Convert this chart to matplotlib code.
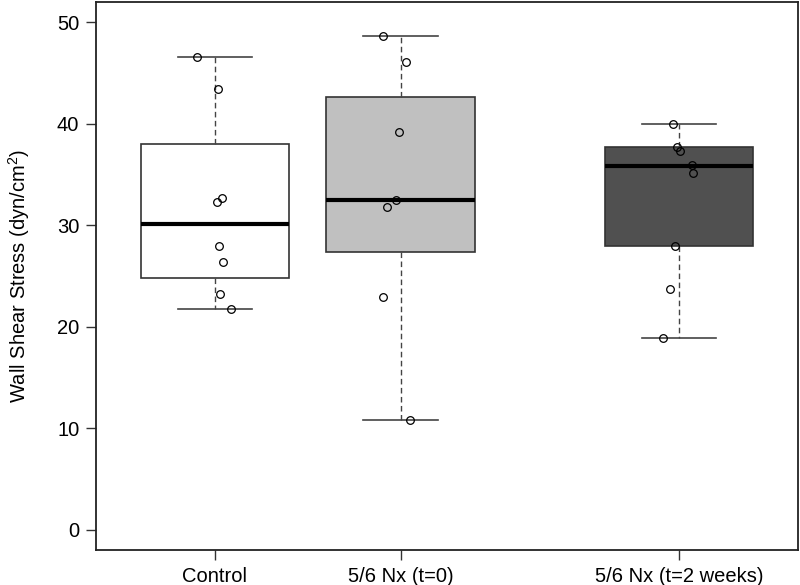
import matplotlib.pyplot as plt

plt.rcParams["font.family"] = ["Liberation Sans", "DejaVu Sans"]

# groups and where they sit on the x axis
groups = ["Control", "5/6 Nx (t=0)", "5/6 Nx (t=2 weeks)"]
positions = [1, 2, 3.5]
box_colors = ["#ffffff", "#c0c0c0", "#505050"]

# box statistics: low whisker, lower hinge, median, upper hinge, high whisker
whislo = [21.7, 10.8, 18.9]
q1 = [24.8, 27.35, 28.0]
med = [30.1, 32.5, 35.85]
q3 = [38.05, 42.65, 37.7]
whishi = [46.6, 48.6, 39.95]

# individual measurements (with the horizontal jitter used in the original)
control_vals = [46.6, 43.4, 32.7, 32.25, 27.95, 26.4, 23.2, 21.7]
control_jitter = [-0.094, 0.017, 0.039, 0.009, 0.020, 0.042, 0.027, 0.086]
nx0_vals = [48.6, 46.1, 39.2, 32.5, 31.8, 22.9, 10.8]
nx0_jitter = [-0.097, 0.029, -0.009, -0.023, -0.074, -0.096, 0.052]
nx2_vals = [39.95, 37.75, 37.3, 35.9, 35.1, 28.0, 23.7, 18.9]
nx2_jitter = [-0.031, -0.012, 0.007, 0.070, 0.074, -0.020, -0.050, -0.085]

yticks = [0, 10, 20, 30, 40, 50]


def main():
    fig = plt.figure(figsize=(8, 5.85), dpi=100)
    ax = fig.add_axes([0.12, 0.06, 0.8775, 0.9366])

    stats = []
    for i in range(len(groups)):
        stats.append(
            {
                "whislo": whislo[i],
                "q1": q1[i],
                "med": med[i],
                "q3": q3[i],
                "whishi": whishi[i],
                "fliers": [],
            }
        )

    bp = ax.bxp(
        stats,
        positions=positions,
        widths=0.8,
        capwidths=0.4,
        patch_artist=True,
        showfliers=False,
        boxprops=dict(edgecolor="#333333", linewidth=1.2),
        whiskerprops=dict(color="#444444", linestyle=(0, (4, 2.5)), linewidth=1.0),
        capprops=dict(color="#444444", linewidth=1.2),
        medianprops=dict(color="black", linewidth=3, solid_capstyle="butt"),
    )
    for patch, c in zip(bp["boxes"], box_colors):
        patch.set_facecolor(c)

    all_vals = [control_vals, nx0_vals, nx2_vals]
    all_jitter = [control_jitter, nx0_jitter, nx2_jitter]
    for pos, vals, jit in zip(positions, all_vals, all_jitter):
        xs = [pos + j for j in jit]
        ax.plot(
            xs,
            vals,
            "o",
            markersize=5.5,
            markerfacecolor="none",
            markeredgecolor="black",
            markeredgewidth=0.9,
            zorder=5,
        )

    ax.set_xlim(0.36, 4.14)
    ax.set_ylim(-2, 52)
    ax.set_xticks(positions)
    ax.set_xticklabels(groups, fontsize=14.5)
    ax.set_yticks(yticks)
    ax.set_yticklabels([str(t) for t in yticks], fontsize=14.5)
    ax.tick_params(direction="out", length=7, width=1, color="#333333", pad=5)
    for s in ax.spines.values():
        s.set_linewidth(1.3)
        s.set_color("#222222")

    ax.set_ylabel(r"Wall Shear Stress (dyn/cm$^\mathregular{2}$)", fontsize=14.5, labelpad=18)

    fig.savefig("out.png", dpi=100)
    plt.close(fig)


if __name__ == "__main__":
    main()
